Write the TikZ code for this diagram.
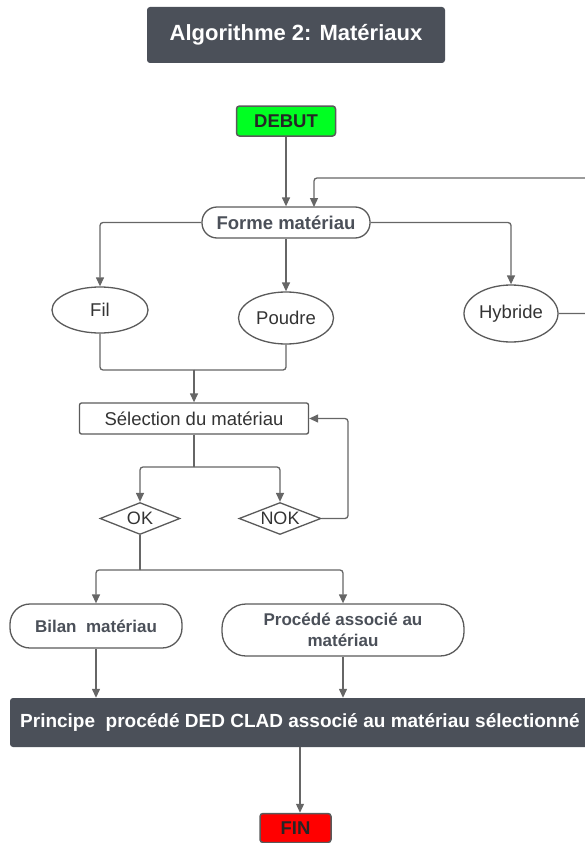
\documentclass[tikz,border=0pt]{standalone}
\usepackage{fontspec}
\setmainfont{Liberation Sans}
\usetikzlibrary{arrows.meta,shapes.geometric}
\definecolor{darkbox}{HTML}{4B5059}
\definecolor{linegray}{HTML}{666666}
\definecolor{bordergray}{HTML}{5A5A5A}
\definecolor{txtgray}{HTML}{4B5059}
\definecolor{txtdark}{HTML}{333333}
\definecolor{debutgreen}{HTML}{00FF22}
\definecolor{finred}{HTML}{FF0000}
\begin{document}
\begin{tikzpicture}[x=1pt,y=-1pt,
  conn/.style={draw=linegray,line width=1.3pt,rounded corners=3pt,-{Triangle[width=8pt,length=9pt]}},
  plainconn/.style={draw=linegray,line width=1.3pt,rounded corners=3pt},
  darkbox/.style={fill=darkbox,draw=none,rounded corners=3pt,text=white,font=\bfseries\fontsize{22}{24}\selectfont},
  pill/.style={draw=bordergray,line width=1.3pt,rounded corners=15pt,fill=white,text=txtgray,font=\bfseries\fontsize{18.5}{20}\selectfont},
  ell/.style={ellipse,draw=bordergray,line width=1.3pt,inner sep=0pt,text=txtdark,font=\fontsize{18.5}{20}\selectfont},
  dia/.style={diamond,draw=bordergray,line width=1.3pt,inner sep=0pt,aspect=2.5,text=txtdark,font=\fontsize{18}{20}\selectfont},
  termbox/.style={draw=bordergray,line width=1.5pt,rounded corners=3pt,text=black!85,font=\bfseries\fontsize{18.5}{20}\selectfont}
]
\useasboundingbox (0,0) rectangle (584,843);
% title
\node[darkbox,minimum width=298pt,minimum height=56pt] (title) at (296,35) {Algorithme 2: Matériaux};
% start
\node[termbox,fill=debutgreen,minimum width=99pt,minimum height=30pt] (debut) at (286,121) {DEBUT};
% forme
\node[pill,minimum width=168pt,minimum height=31pt] (forme) at (286,222.5) {Forme matériau};
% ellipses
\node[ell,minimum width=96pt,minimum height=46pt] (fil) at (100,310) {Fil};
\node[ell,minimum width=95pt,minimum height=52pt] (poudre) at (286,318) {Poudre};
\node[ell,minimum width=94pt,minimum height=57pt] (hybride) at (511,313.5) {Hybride};
% selection
\node[draw=bordergray,line width=1.3pt,rounded corners=2pt,minimum width=229pt,minimum height=31pt,text=txtdark,font=\fontsize{18.5}{20}\selectfont] (sel) at (194,418.5) {Sélection du matériau};
% diamonds
\node[dia,minimum width=80pt,minimum height=32pt] (ok) at (140,518.5) {OK};
\node[dia,minimum width=82pt,minimum height=32pt] (nok) at (280,518.5) {NOK};
% bilan, procede
\node[pill,rounded corners=20pt,minimum width=172pt,minimum height=44pt,font=\bfseries\fontsize{17}{19}\selectfont] (bilan) at (96,626) {Bilan\ \ matériau};
\node[pill,rounded corners=24pt,minimum width=242pt,minimum height=52pt,align=center,font=\bfseries\fontsize{17}{21}\selectfont] (proc) at (343,630) {Procédé associé au\\matériau};
% principe
\node[darkbox,minimum width=580pt,minimum height=49pt,font=\bfseries\fontsize{19}{21}\selectfont] (princ) at (300,722.5) {Principe\ \ procédé DED CLAD associé au matériau sélectionné};
% fin
\node[termbox,fill=finred,minimum width=71pt,minimum height=29pt] (fin) at (295.5,828) {FIN};
% helper coordinates
\coordinate (j1) at (194,370);
\coordinate (j2) at (194,467);
\coordinate (j3) at (140,570);
% connectors
\draw[conn] (debut.south) -- (forme.north);
\draw[conn] (hybride.east) -- (600,313.5) -- (600,178) -- (314,178) -- (314,207);
\draw[conn] (forme.west) -| (fil.north);
\draw[conn] (forme.south) -- (poudre.north);
\draw[conn] (forme.east) -| (hybride.north);
\draw[plainconn] (fil.south) |- (j1);
\draw[plainconn] (poudre.south) |- (j1);
\draw[conn] (j1) -- (sel.north);
\draw[plainconn] (sel.south) -- (j2);
\draw[conn] (j2) -| (ok.north);
\draw[conn] (j2) -| (nok.north);
\draw[conn] (nok.east) -- (348,518.5) |- (sel.east);
\draw[plainconn] (ok.south) -- (j3);
\draw[conn] (j3) -| (bilan.north);
\draw[conn] (j3) -| (proc.north);
\draw[conn] (bilan.south) -- (bilan.south |- princ.north);
\draw[conn] (proc.south) -- (proc.south |- princ.north);
\draw[conn] (princ.south) -- (princ.south |- fin.north);
\end{tikzpicture}
\end{document}
